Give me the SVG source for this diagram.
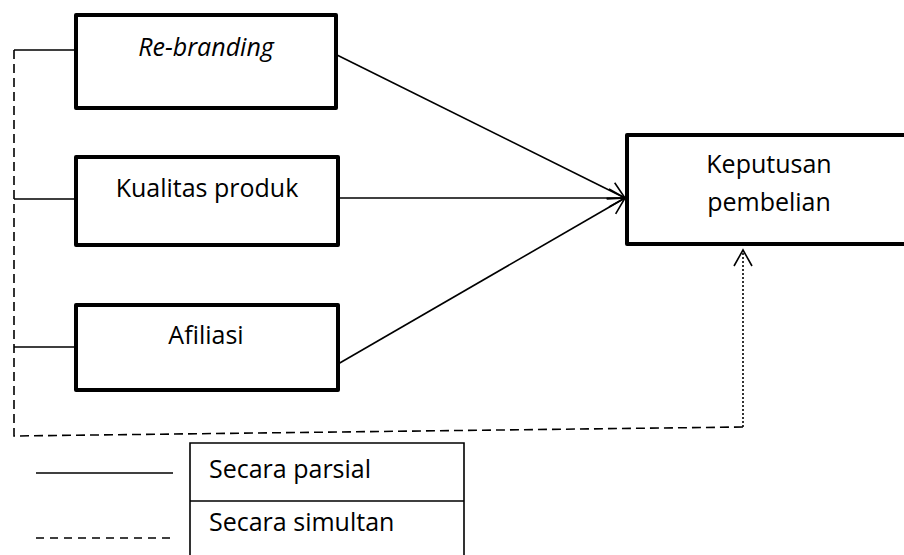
<svg xmlns="http://www.w3.org/2000/svg" width="904" height="555" viewBox="0 0 904 555">
<style>
.box{fill:#fff;stroke:#000;stroke-width:4;stroke-linejoin:round}
.t{font-family:"Open Sans","Noto Sans","Liberation Sans",sans-serif;font-size:25px;fill:#000}
.c{stroke:#000;stroke-width:1.6;fill:none}
</style>
<defs>
<marker id="ah" markerUnits="userSpaceOnUse" viewBox="-2 -2 20 22" refX="16" refY="9" markerWidth="20" markerHeight="22" orient="auto">
<path d="M0,0 L16,9 L0,18" fill="none" stroke="#000" stroke-width="1.6"/>
</marker>
</defs>
<g id="connectors">
<path class="c" d="M14,50 H76 M14,199 H76 M14,347 H76"/>
<path class="c" stroke-dasharray="9,5" d="M14,50 V436 L743,427"/>
<path class="c" stroke-dasharray="2,2" d="M743,427 V250" marker-end="url(#ah)"/>
<path class="c" d="M337,55 L625,198" marker-end="url(#ah)"/>
<path class="c" d="M338,198 L625,198" marker-end="url(#ah)"/>
<path class="c" d="M338,364 L625,198" marker-end="url(#ah)"/>
</g>
<g id="rebranding">
<rect class="box" x="76" y="15" width="260" height="93"/>
<text class="t" x="206" y="56" text-anchor="middle" font-style="italic">Re-branding</text>
</g>
<g id="kualitas">
<rect class="box" x="76" y="157" width="262" height="88"/>
<text class="t" x="207" y="197" text-anchor="middle">Kualitas produk</text>
</g>
<g id="afiliasi">
<rect class="box" x="76" y="305" width="262" height="85"/>
<text class="t" x="206" y="344" text-anchor="middle">Afiliasi</text>
</g>
<g id="keputusan">
<rect class="box" x="627" y="135" width="290" height="109"/>
<text class="t" x="769" y="173" text-anchor="middle">Keputusan</text>
<text class="t" x="769" y="211" text-anchor="middle">pembelian</text>
</g>
<g id="legend">
<line x1="36" y1="473" x2="173" y2="473" stroke="#000" stroke-width="1.6"/>
<line x1="36" y1="538" x2="173" y2="538" stroke="#000" stroke-width="1.6" stroke-dasharray="8,6"/>
<path d="M190,560 V443 H464 V560 M190,501 H464" fill="none" stroke="#000" stroke-width="1.6"/>
<text class="t" x="209" y="478">Secara parsial</text>
<text class="t" x="209" y="531">Secara simultan</text>
</g>
</svg>
